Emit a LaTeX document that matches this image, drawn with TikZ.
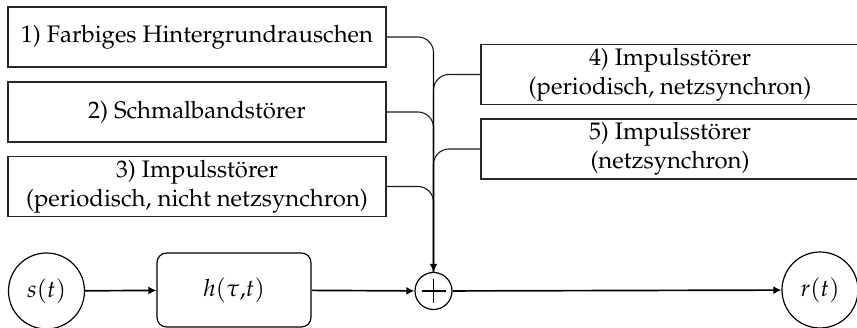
\documentclass[tikz,border=0pt]{standalone}
\usepackage[T1]{fontenc}
\usepackage{mathpazo}
\usetikzlibrary{arrows.meta}
\newcommand{\pxu}{0.418pt}
\tikzset{
  stoerbox/.style={draw=black!85, line width=0.6pt, minimum width=378*\pxu,
    minimum height=60*\pxu, inner sep=0pt, align=center},
  feedline/.style={draw=black!90, line width=0.45pt, rounded corners=6.5pt},
  sigline/.style={line width=0.7pt, -{Latex[length=3.4pt,width=3.4pt]}},
  sigcirc/.style={circle, draw, line width=0.5pt, minimum size=76*\pxu, inner sep=0pt},
}
\begin{document}
\begin{tikzpicture}[x=\pxu, y=-\pxu]
  \clip (0,0) rectangle (857,328);

  % interference sources
  \node[stoerbox] (b1) at (197,37)    {1) Farbiges Hintergrundrauschen};
  \node[stoerbox] (b2) at (197,112)   {2) Schmalbandstörer};
  \node[stoerbox] (b3) at (197,186.5) {3) Impulsstörer\\(periodisch, nicht netzsynchron)};
  \node[stoerbox] (b4) at (670,74.5)  {4) Impulsstörer\\(periodisch, netzsynchron)};
  \node[stoerbox] (b5) at (670,149)   {5) Impulsstörer\\(netzsynchron)};

  % signal chain
  \node[sigcirc] (s) at (46.5,291) {$s(t)$};
  \node[draw, line width=0.5pt, rounded corners=4pt, minimum width=154*\pxu,
        minimum height=74*\pxu, inner sep=0pt] (h) at (234,290) {$h(\tau{,}t)$};
  \node[circle, draw, line width=0.5pt, minimum size=37*\pxu, inner sep=0pt] (sum) at (433.5,291) {};
  \draw[line width=0.5pt] ([xshift=-12*\pxu]sum.center) -- ([xshift=12*\pxu]sum.center)
                          ([yshift=-12*\pxu]sum.center) -- ([yshift=12*\pxu]sum.center);
  \node[sigcirc] (r) at (820,290) {$r(t)$};

  % feeds into the adder
  \draw[feedline] (b1.east) -| (sum.north);
  \draw[feedline] (b2.east) -| (sum.north);
  \draw[feedline] (b3.east) -| (sum.north);
  \draw[feedline] (b4.west) -| (sum.north);
  \draw[feedline] (b5.west) -| (sum.north);
  \coordinate (feedtop) at (433.5,53);
  \draw[sigline] (feedtop) -- (sum.north);

  \draw[sigline] (s) -- (h);
  \draw[sigline] (h) -- (sum);
  \draw[sigline] (sum) -- (r);
\end{tikzpicture}
\end{document}
